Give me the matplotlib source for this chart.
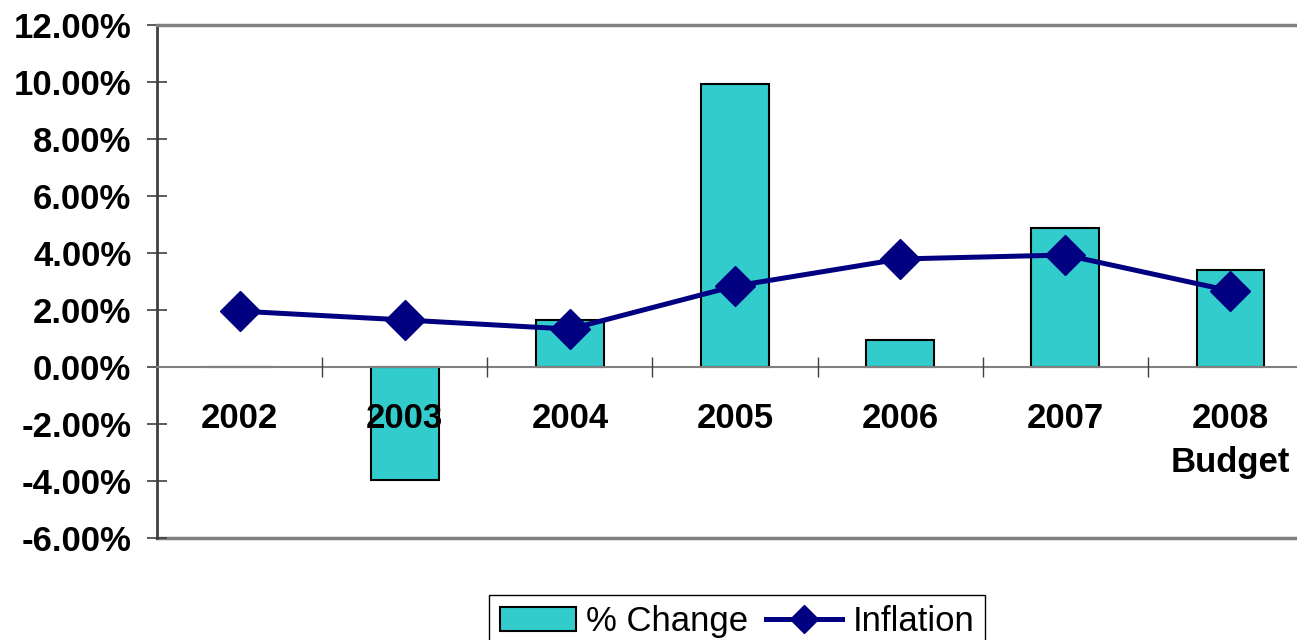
import matplotlib.pyplot as plt
from matplotlib.ticker import FuncFormatter, FixedLocator

years = ["2002", "2003", "2004", "2005", "2006", "2007", "2008\nBudget"]
pct_change = [0.0, -3.96, 1.65, 9.93, 0.95, 4.88, 3.40]
inflation = [1.96, 1.65, 1.33, 2.84, 3.79, 3.93, 2.67]

plt.rcParams['font.family'] = ['Liberation Sans', 'DejaVu Sans']

fig = plt.figure(figsize=(12.97, 6.4), dpi=100)
# plot area runs a little past the right edge of the figure
ax = fig.add_axes([157 / 1297, 102 / 640, 1156 / 1297, 513 / 640])

x = list(range(len(years)))
bars = ax.bar(x, pct_change, width=0.41, color='#33CCCC', edgecolor='black',
              linewidth=1.5, label='% Change', zorder=2)
line, = ax.plot(x, inflation, color='#000080', linewidth=3.6, marker='D',
                markersize=20, label='Inflation', zorder=4)

ax.set_xlim(-0.5, len(years) - 0.5)
ax.set_ylim(-6, 12)
ax.set_yticks(range(-6, 13, 2))
ax.yaxis.set_major_formatter(FuncFormatter(lambda v, p: f"{v:.2f}%"))

# category axis sits on the zero line, drawn over the bars
ax.spines['bottom'].set_position(('data', 0))
ax.spines['bottom'].set_color('#808080')
ax.spines['bottom'].set_linewidth(1.5)
ax.spines['bottom'].set_zorder(3)
ax.spines['top'].set_color('#808080')
ax.spines['top'].set_linewidth(2.5)
ax.spines['left'].set_color('#404040')
ax.spines['left'].set_linewidth(2)
ax.spines['right'].set_color('#808080')
ax.axhline(-6, color='#808080', linewidth=2.5, clip_on=False, zorder=1)
ax.xaxis.set_zorder(5)

ax.set_xticks(x)
ax.set_xticklabels(years, fontsize=25, fontweight='bold', linespacing=1.45)
ax.tick_params(axis='x', which='major', length=0, pad=25)
ax.xaxis.set_minor_locator(FixedLocator([i + 0.5 for i in x]))
ax.tick_params(axis='x', which='minor', direction='inout', length=15,
               width=1, color='#404040')

ax.tick_params(axis='y', direction='inout', length=15, width=1.2,
               color='#404040', labelsize=25, pad=11)
for t in ax.get_yticklabels():
    t.set_fontweight('bold')

fig.legend([bars, line], ['% Change', 'Inflation'], loc='upper center',
           bbox_to_anchor=(737 / 1297, 45 / 640), borderaxespad=0, ncol=2,
           fontsize=25, frameon=True, fancybox=False, edgecolor='black',
           framealpha=1, handlelength=2.2, handleheight=0.7,
           handletextpad=0.3, columnspacing=0.5, borderpad=0.3,
           markerscale=0.7)

fig.savefig('out.png', dpi=100)
